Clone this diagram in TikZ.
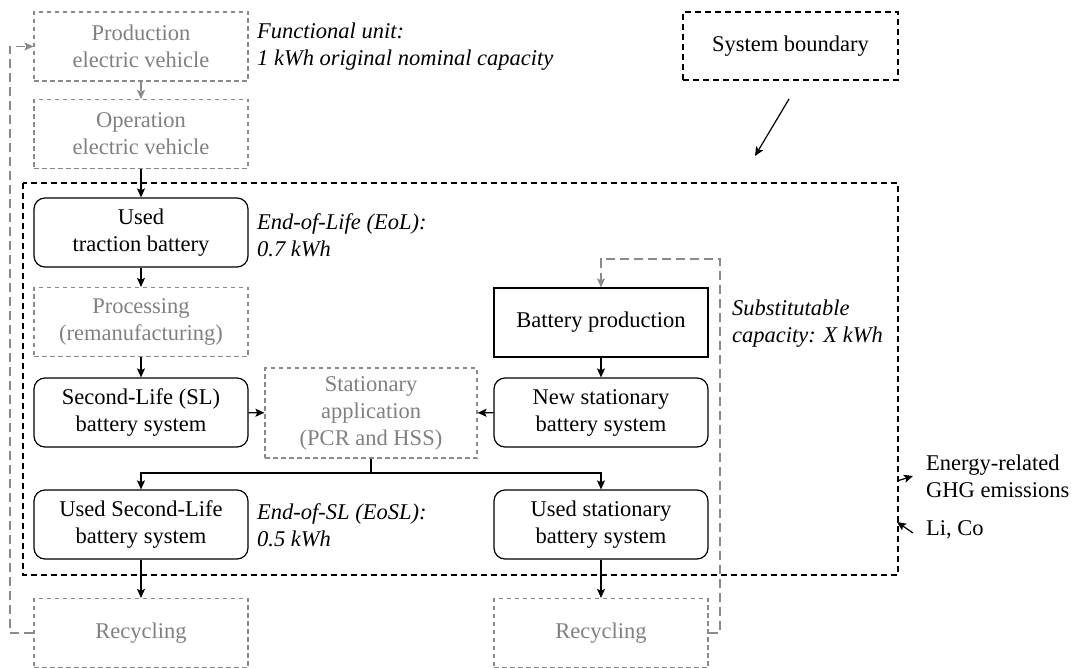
\documentclass[tikz,border=0pt]{standalone}
\usepackage{fontspec}
\setmainfont{Liberation Serif}
\usetikzlibrary{arrows.meta}
\definecolor{fadetext}{RGB}{128,128,128}
\definecolor{fadeline}{RGB}{138,138,138}
\begin{document}
\begin{tikzpicture}[x=1pt,y=-1pt,
  font=\fontsize{22.5pt}{27pt}\selectfont,
  tip/.tip={Stealth[length=9pt,width=8pt,inset=1.8pt]},
  solidbox/.style={draw,line width=1.2pt,minimum width=214pt,minimum height=69pt,inner sep=0pt,align=center},
  roundbox/.style={solidbox,rounded corners=11pt},
  fadebox/.style={draw=fadeline,text=fadetext,line width=1.1pt,dash pattern=on 4.5pt off 3.5pt,minimum width=214pt,minimum height=69pt,inner sep=0pt,align=center},
  flow/.style={line width=1.2pt,-tip},
  fadeflow/.style={draw=fadeline,line width=1.1pt,dash pattern=on 9pt off 5pt,-{Stealth[length=9pt,width=8pt,inset=1.8pt,fill=fadeline]}},
  boundary/.style={draw,line width=1.2pt,dash pattern=on 6pt off 4pt},
  note/.style={anchor=west,align=left,inner sep=0pt}
]
\useasboundingbox (0,0) rectangle (1071,668);

% system boundary and its legend
\draw[boundary] (23,183) rectangle (898,575);
\node[boundary,minimum width=215pt,minimum height=68pt,inner sep=0pt] (legend) at (790.5,46) {System boundary};
\coordinate (legtail) at (789,99);
\coordinate (leghead) at (755,156);
\draw[flow] (legtail) -- (leghead);

% left column
\node[fadebox] (prodEV) at (141,46.5) {Production\\electric vehicle};
\node[fadebox] (opEV) at (141,134) {Operation\\electric vehicle};
\node[roundbox] (usedTr) at (141,232.5) {Used\\traction battery};
\node[fadebox] (proc) at (141,322) {Processing\\(remanufacturing)};
\node[roundbox] (sl) at (141,412.5) {Second-Life (SL)\\battery system};
\node[roundbox] (usedSL) at (141,524.5) {Used Second-Life\\battery system};
\node[fadebox] (recL) at (141,633) {Recycling};

% middle
\node[fadebox,minimum width=212pt,minimum height=90pt] (stat) at (371,413) {Stationary\\application\\(PCR and HSS)};

% right column
\node[solidbox] (batProd) at (601,322.5) {Battery production};
\node[roundbox] (newStat) at (601,412.5) {New stationary\\battery system};
\node[roundbox] (usedStat) at (601,524.5) {Used stationary\\battery system};
\node[fadebox] (recR) at (601,633) {Recycling};

% annotations
\node[note,font=\fontsize{22.5pt}{27pt}\selectfont\itshape] (fu) at (257,47) {Functional unit:\\1 kWh original nominal capacity};
\node[note,font=\fontsize{22.5pt}{27pt}\selectfont\itshape] (eol) at (257,235) {End-of-Life (EoL):\\0.7 kWh};
\node[note,font=\fontsize{22.5pt}{27pt}\selectfont\itshape] (eosl) at (257,525) {End-of-SL (EoSL):\\0.5 kWh};
\node[note,font=\fontsize{22.5pt}{27pt}\selectfont\itshape] (subst) at (732,324) {Substitutable\\capacity: X kWh};
\node[note] (ghg) at (926,476) {Energy-related\\GHG emissions};
\node[note] (lico) at (926,530) {Li, Co};

% material and product flows
\draw[fadeflow] (prodEV) -- (opEV);
\draw[flow] (opEV) -- (usedTr);
\draw[flow] (usedTr) -- (proc);
\draw[flow] (proc) -- (sl);
\draw[flow] (sl) -- (stat);
\draw[flow] (batProd) -- (newStat);
\draw[flow] (newStat) -- (stat);
\coordinate (branch) at (371,473);
\draw[line width=1.2pt] (stat.south) -- (branch);
\draw[flow] (branch) -| (usedSL.north);
\draw[flow] (branch) -| (usedStat.north);
\draw[flow] (usedSL) -- (recL);
\draw[flow] (usedStat) -- (recR);

% recycling loops
\coordinate (loopL) at (10,633);
\draw[fadeflow] (recL.west) -- (loopL) |- (prodEV.west);
\coordinate (loopR) at (720,259);
\draw[fadeflow] (recR.east) -| (loopR) -| (batProd.north);

% exchanges across the boundary
\coordinate (ghgtail) at (897,481);
\coordinate (ghghead) at (913,476);
\draw[flow] (ghgtail) -- (ghghead);
\coordinate (licotail) at (913,533);
\coordinate (licohead) at (897,522);
\draw[flow] (licotail) -- (licohead);
\end{tikzpicture}
\end{document}
